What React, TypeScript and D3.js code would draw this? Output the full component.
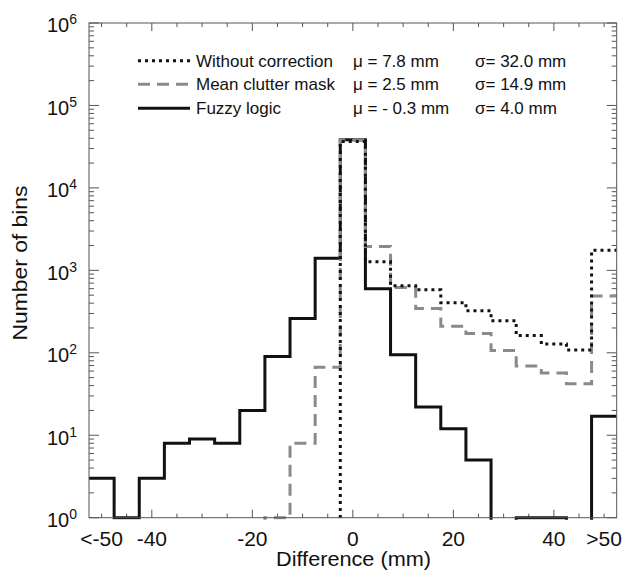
import React from 'react';
import * as d3 from 'd3';

const binCenters = [-50, -45, -40, -35, -30, -25, -20, -15, -10, -5, 0, 5, 10, 15, 20, 25, 30, 35, 40, 45, 50];
const withoutCorrection = [0, 0, 0, 0, 0, 0, 0, 0, 0, 0, 36500, 1270, 650, 580, 405, 323, 244, 162, 128, 108, 1750];
const meanClutterMask = [0, 0, 0, 0, 0, 0, 0, 1, 8, 67, 38000, 1950, 620, 345, 210, 172, 107, 69, 57, 42, 490];
const fuzzyLogic = [3, 1, 3, 8, 9, 8, 20, 90, 260, 1400, 38500, 600, 95, 22, 12, 5, 0, 1, 1, 0, 17];

const xTickPositions = [-50, -40, -20, 0, 20, 40, 50];
const xTickLabels = ['<-50', '-40', '-20', '0', '20', '40', '>50'];
const xMajorTicks = [-40, -20, 0, 20, 40];
const yTickExponents = [0, 1, 2, 3, 4, 5, 6];

const legendNames = ['Without correction', 'Mean clutter mask', 'Fuzzy logic'];
const legendMu = ['\u03bc = 7.8 mm', '\u03bc = 2.5 mm', '\u03bc = - 0.3 mm'];
const legendSigma = ['\u03c3= 32.0 mm', '\u03c3= 14.9 mm', '\u03c3= 4.0 mm'];

const W = 623;
const H = 576;
const L = 89;
const R = 616.7;
const T = 23;
const B = 517.7;
const BIN = 5;
const FONT = '"Liberation Sans", Arial, Helvetica, sans-serif';
const AXIS = '#555';

const styles = [
  { stroke: '#111', dash: 'none' },
  { stroke: '#8a8a8a', dash: '12 7' },
  { stroke: '#111', dash: '3 4' },
];

export default function App() {
  const x = d3.scaleLinear().domain([-52.5, 52.5]).range([L, R]);
  const y = d3.scaleLog().domain([1, 1e6]).range([B, T]);
  const FLOOR = 0.3;

  const stepPath = (vals: number[]) => {
    const pts: [number, number][] = [];
    binCenters.forEach((c, i) => {
      const v = Math.max(vals[i], FLOOR);
      pts.push([c - BIN / 2, v], [c + BIN / 2, v]);
    });
    return d3
      .line<[number, number]>()
      .x((d) => x(d[0]))
      .y((d) => y(d[1]))(pts) as string;
  };

  const xMinor = d3.range(-50, 51, 5);
  const yMinor: number[] = [];
  for (let e = 0; e < 6; e++) for (let k = 2; k <= 9; k++) yMinor.push(k * Math.pow(10, e));

  const series = [fuzzyLogic, meanClutterMask, withoutCorrection];
  const seriesStyle = [styles[0], styles[1], styles[2]];
  const legendStyle = [styles[2], styles[1], styles[0]];
  const legendLineY = [60.7, 84.2, 108.3];
  const legendBase = [66.5, 90, 113.5];

  return (
    <svg width={W} height={H} style={{ position: 'absolute', left: 0, top: 0, background: '#fff' }} fontFamily={FONT}>
      <defs>
        <clipPath id="plotclip">
          <rect x={L} y={T} width={R - L} height={B - T + 2} />
        </clipPath>
      </defs>

      {/* ticks */}
      <g stroke={AXIS} strokeWidth={1}>
        {xMinor.map((v) => {
          const len = xMajorTicks.includes(v) ? 8 : 4;
          return (
            <g key={'xt' + v}>
              <line x1={x(v)} x2={x(v)} y1={B} y2={B - len} />
              <line x1={x(v)} x2={x(v)} y1={T} y2={T + len} />
            </g>
          );
        })}
        {yTickExponents.map((e) => (
          <g key={'ytM' + e}>
            <line x1={L} x2={L + 10} y1={y(Math.pow(10, e))} y2={y(Math.pow(10, e))} />
            <line x1={R} x2={R - 10} y1={y(Math.pow(10, e))} y2={y(Math.pow(10, e))} />
          </g>
        ))}
        {yMinor.map((v) => (
          <g key={'ytm' + v}>
            <line x1={L} x2={L + 5} y1={y(v)} y2={y(v)} />
            <line x1={R} x2={R - 5} y1={y(v)} y2={y(v)} />
          </g>
        ))}
      </g>

      {/* histograms */}
      <g clipPath="url(#plotclip)" fill="none">
        {series.map((vals, i) => (
          <path
            key={'s' + i}
            d={stepPath(vals)}
            stroke={seriesStyle[i].stroke}
            strokeWidth={3}
            strokeDasharray={seriesStyle[i].dash}
            strokeLinejoin="miter"
          />
        ))}
      </g>

      {/* frame */}
      <rect x={L} y={T} width={R - L} height={B - T} fill="none" stroke={AXIS} strokeWidth={1} />

      {/* x tick labels */}
      {xTickPositions.map((v, i) => (
        <text key={'xl' + v} x={x(v)} y={545.5} textAnchor="middle" fontSize={21} fill="#111">
          {xTickLabels[i]}
        </text>
      ))}

      {/* y tick labels */}
      {yTickExponents.map((e) => (
        <text key={'yl' + e} x={77} y={y(Math.pow(10, e)) + 9.3} textAnchor="end" fontSize={20} fill="#111">
          10
          <tspan fontSize={14} dy={-8}>{e}</tspan>
        </text>
      ))}

      {/* axis titles */}
      <text
        x={353.5}
        y={566}
        textAnchor="middle"
        fontSize={20}
        fill="#111"
        textLength={155}
        lengthAdjust="spacingAndGlyphs"
      >
        Difference (mm)
      </text>
      <text
        transform={`translate(27,263) rotate(-90)`}
        textAnchor="middle"
        fontSize={19.5}
        fill="#111"
        textLength={155}
        lengthAdjust="spacingAndGlyphs"
      >
        Number of bins
      </text>

      {/* legend */}
      {legendNames.map((name, i) => (
        <g key={'lg' + i}>
          <line
            x1={138}
            x2={190}
            y1={legendLineY[i]}
            y2={legendLineY[i]}
            stroke={legendStyle[i].stroke}
            strokeWidth={3}
            strokeDasharray={legendStyle[i].dash}
          />
          <text x={196} y={legendBase[i]} fontSize={17} fill="#111">
            {name}
          </text>
          <text x={353} y={legendBase[i]} fontSize={17} fill="#111">
            {legendMu[i]}
          </text>
          <text x={475} y={legendBase[i]} fontSize={17} fill="#111">
            {legendSigma[i]}
          </text>
        </g>
      ))}
    </svg>
  );
}
